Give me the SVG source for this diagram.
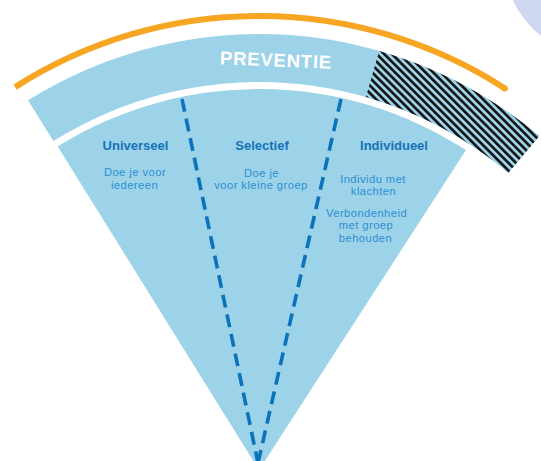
<svg xmlns="http://www.w3.org/2000/svg" width="541" height="461" viewBox="0 0 541 461">
<defs>
<pattern id="hatch" width="5.4" height="5.4" patternUnits="userSpaceOnUse" patternTransform="rotate(-45)">
<rect width="5.4" height="5.4" fill="#9dd3e9"/>
<rect width="2.6" height="5.4" fill="#111"/>
</pattern>
<style>
.fill{fill:#9dd3e9}
.head{font-family:"Liberation Sans",Arial,sans-serif;font-weight:bold;font-size:13px;fill:#1672b8;text-anchor:middle}
.body{font-family:"Liberation Sans",Arial,sans-serif;font-size:11.2px;letter-spacing:0.45px;fill:#2b8fd2;text-anchor:middle}
.dash{fill:none;stroke:#0b73bc;stroke-width:3.6;stroke-dasharray:13 7}
</style>
</defs>
<rect width="541" height="461" fill="#fff"/>
<circle cx="600" cy="-40" r="96" fill="#cfd8f0"/>
<g id="orange-arc">
<path d="M15.1,87.1 A454,454 0 0 1 504.9,88.4" fill="none" stroke="#f6a623" stroke-width="6"/>
<circle cx="504.9" cy="88.4" r="3" fill="#f6a623"/>
</g>
<g id="preventie">
<path class="fill" d="M28.0,100.3 A436,436 0 0 1 539.3,136.0 L508.4,172.8 A388,388 0 0 0 53.4,141.0 Z"/>
<path fill="url(#hatch)" d="M379.2,50.9 A436,436 0 0 1 539.3,136.0 L508.4,172.8 A388,388 0 0 0 365.9,97.0 Z"/>
<text x="276" y="66.5" transform="rotate(2.3 276 60)" font-family="'Liberation Sans',Arial,sans-serif" font-weight="bold" font-size="18.5" letter-spacing="0.8" fill="#fff" text-anchor="middle">PREVENTIE</text>
</g>
<g id="fan">
<path class="fill" d="M259,470 L57.7,146.5 A381,381 0 0 1 466.0,150.1 Z"/>
</g>
<g id="universeel">
<text class="head" x="135.5" y="150">Universeel</text>
<text class="body"><tspan x="135" y="176">Doe je voor</tspan><tspan x="134.5" y="188.5">iedereen</tspan></text>
</g>
<g id="selectief">
<text class="head" x="262" y="150">Selectief</text>
<text class="body"><tspan x="261.5" y="176.5">Doe je</tspan><tspan x="261" y="189">voor kleine groep</tspan></text>
</g>
<g id="individueel">
<text class="head" x="394" y="150">Individueel</text>
<text class="body"><tspan x="373" y="182.5">Individu met</tspan><tspan x="373.5" y="195">klachten</tspan></text>
<text class="body"><tspan x="366.5" y="216.5">Verbondenheid</tspan><tspan x="366" y="229">met groep</tspan><tspan x="365.5" y="241.5">behouden</tspan></text>
</g>
<g id="connectors">
<line class="dash" x1="182" y1="99" x2="258" y2="463"/>
<line class="dash" x1="341" y1="99" x2="258" y2="463"/>
</g>
</svg>
